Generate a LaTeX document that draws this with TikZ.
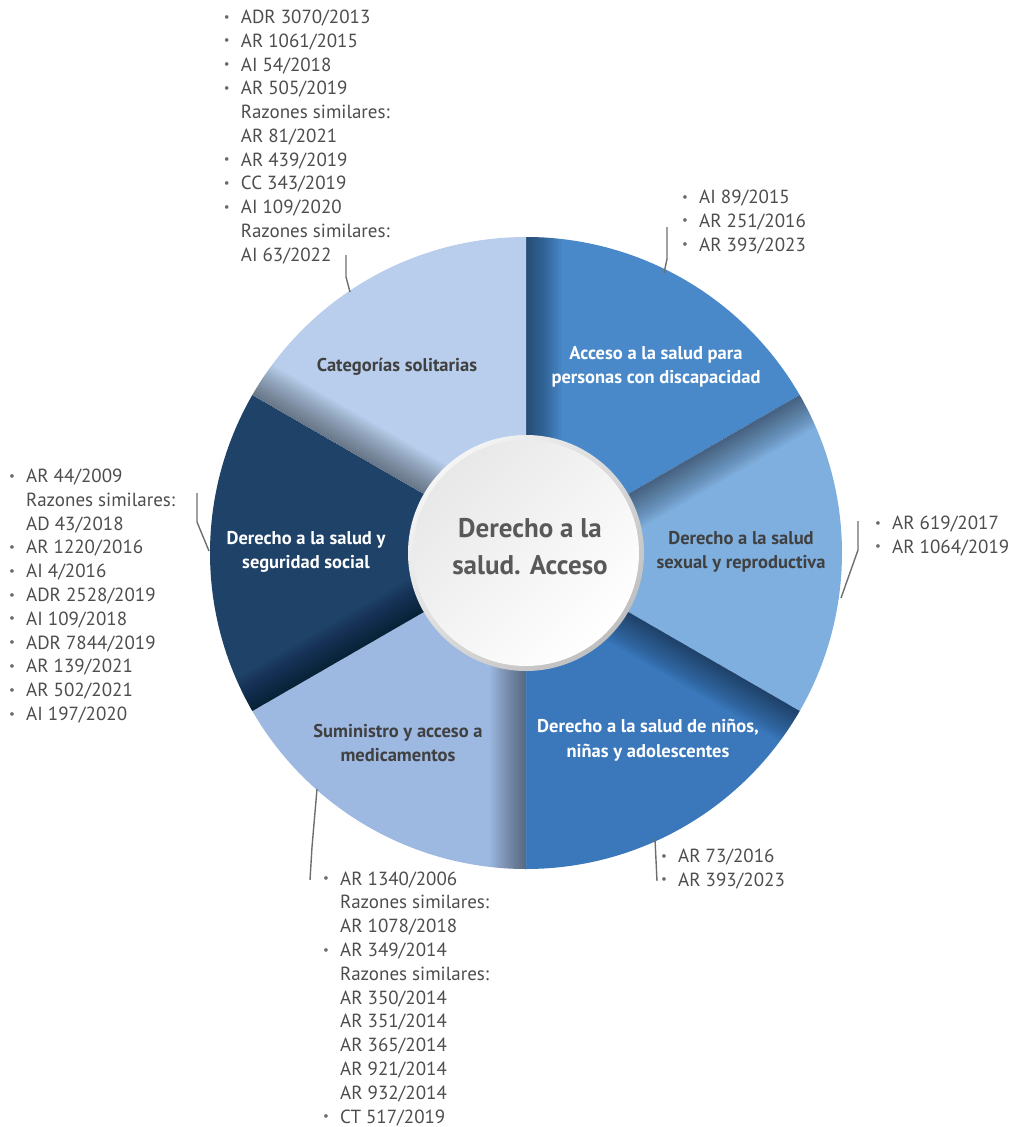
\documentclass[tikz,border=0pt]{standalone}
\usepackage{fontspec}
\setmainfont{PT Sans}
\definecolor{secAcc}{HTML}{4A89C9}
\definecolor{secSex}{HTML}{7FAFDF}
\definecolor{secNin}{HTML}{3A78BB}
\definecolor{secSum}{HTML}{9DB9E2}
\definecolor{secSeg}{HTML}{1F4268}
\definecolor{secCat}{HTML}{B8CEEC}
\definecolor{txtgray}{HTML}{4D4D4D}
\definecolor{lblgray}{HTML}{404040}
\definecolor{hubgray}{HTML}{595959}
\definecolor{leadgray}{HTML}{6E6E6E}
\definecolor{bulgray}{HTML}{6A6A6A}
\newcommand{\itm}{\makebox[17pt][l]{\color{bulgray}\raisebox{2.3pt}{\fontsize{13}{13}\selectfont\textbullet}}}
\newcommand{\reflist}[1]{\begin{tabular}[t]{@{}l@{}l@{}}#1\end{tabular}}
\begin{document}
\begin{tikzpicture}[x=1pt,y=1pt,
  lead/.style={draw=leadgray, line width=1.4pt},
  reflist/.style={anchor=base west, inner sep=0pt, text=txtgray, font=\fontsize{19}{23.8}\selectfont},
  seclabel/.style={align=center, inner sep=0pt, font=\bfseries\fontsize{18.5}{24.5}\selectfont},
]
\useasboundingbox (0,0) rectangle (1010,-1127);
\coordinate (c) at (526,-553);
\pgfmathsetmacro{\R}{316}
% sectors, each with a soft shadow along its left edge
\foreach \a/\col in {90/secAcc,30/secSex,-30/secNin,-90/secSum,-150/secSeg,150/secCat}{
  \begin{scope}[shift={(c)}, rotate=\a]
    \fill[\col] (0,0) -- (0:\R) arc[start angle=0, end angle=-60, radius=\R] -- cycle;
    \clip (0,0) -- (0:\R) arc[start angle=0, end angle=-60, radius=\R] -- cycle;
    \foreach \k in {0,...,23}{
      \fill[black, opacity=0.018] (0,0) rectangle (\R+2,-1.5*\k-1.5);
    }
  \end{scope}
}
% hub
\shade[top color=gray!8, bottom color=gray!50, shading angle=45] (c) circle[radius=118];
\shade[top color=gray!18, bottom color=white, shading angle=45] (c) circle[radius=113];
\node[align=center, inner sep=0pt, text=hubgray, font=\bfseries\fontsize{27}{37}\selectfont] (hub) at (530,-547) {Derecho a la\\salud. Acceso};

% sector labels
\node[seclabel, text=white] (acc) at (656,-367) {Acceso a la salud para\\personas con discapacidad};
\node[seclabel, text=lblgray] (sex) at (741,-552) {Derecho a la salud\\sexual y reproductiva};
\node[seclabel, text=white] (nin) at (648,-740) {Derecho a la salud de niños,\\niñas y adolescentes};
\node[seclabel, text=lblgray] (sum) at (398,-743) {Suministro y acceso a\\medicamentos};
\node[seclabel, text=white] (seg) at (306,-552) {Derecho a la salud y\\seguridad social};
\node[seclabel, text=lblgray] (cat) at (397,-367) {Categorías solitarias};

% reference lists
\node[reflist] (lCat) at (223.7,-23.4) {\reflist{
  \itm & ADR 3070/2013\\
  \itm & AR 1061/2015\\
  \itm & AI 54/2018\\
  \itm & AR 505/2019\\
       & Razones similares:\\
       & AR 81/2021\\
  \itm & AR 439/2019\\
  \itm & CC 343/2019\\
  \itm & AI 109/2020\\
       & Razones similares:\\
       & AI 63/2022}};
\node[reflist] (lAcc) at (682,-203.4) {\reflist{
  \itm & AI 89/2015\\
  \itm & AR 251/2016\\
  \itm & AR 393/2023}};
\node[reflist] (lSex) at (875,-529.4) {\reflist{
  \itm & AR 619/2017\\
  \itm & AR 1064/2019}};
\node[reflist] (lSeg) at (9,-482.4) {\reflist{
  \itm & AR 44/2009\\
       & Razones similares:\\
       & AD 43/2018\\
  \itm & AR 1220/2016\\
  \itm & AI 4/2016\\
  \itm & ADR 2528/2019\\
  \itm & AI 109/2018\\
  \itm & ADR 7844/2019\\
  \itm & AR 139/2021\\
  \itm & AR 502/2021\\
  \itm & AI 197/2020}};
\node[reflist] (lSum) at (323,-885) {\reflist{
  \itm & AR 1340/2006\\
       & Razones similares:\\
       & AR 1078/2018\\
  \itm & AR 349/2014\\
       & Razones similares:\\
       & AR 350/2014\\
       & AR 351/2014\\
       & AR 365/2014\\
       & AR 921/2014\\
       & AR 932/2014\\
  \itm & CT 517/2019}};
\node[reflist] (lNin) at (661,-862.4) {\reflist{
  \itm & AR 73/2016\\
  \itm & AR 393/2023}};

% leader lines
\coordinate (catT) at (346,-255); \coordinate (catB) at (346,-277); \coordinate (catE) at (350,-292);
\coordinate (accT) at (667,-227); \coordinate (accB) at (667,-259); \coordinate (accE) at (664,-273);
\coordinate (sexT) at (858,-521); \coordinate (sexB) at (858,-550); \coordinate (sexE) at (841,-598);
\coordinate (ninE) at (655,-839); \coordinate (ninB) at (656,-860); \coordinate (ninT) at (657,-881);
\coordinate (sumE) at (317,-789); \coordinate (sumB) at (312,-847); \coordinate (sumT) at (310,-880);
\coordinate (segT) at (197,-493); \coordinate (segB) at (197,-522); \coordinate (segE) at (209,-551);
\draw[lead] (catT) -- (catB) -- (catE);
\draw[lead] (accT) -- (accB) -- (accE);
\draw[lead] (sexT) -- (sexB) -- (sexE);
\draw[lead] (ninE) -- (ninB) -- (ninT);
\draw[lead] (sumE) -- (sumB) -- (sumT);
\draw[lead] (segT) -- (segB) -- (segE);
\end{tikzpicture}
\end{document}
